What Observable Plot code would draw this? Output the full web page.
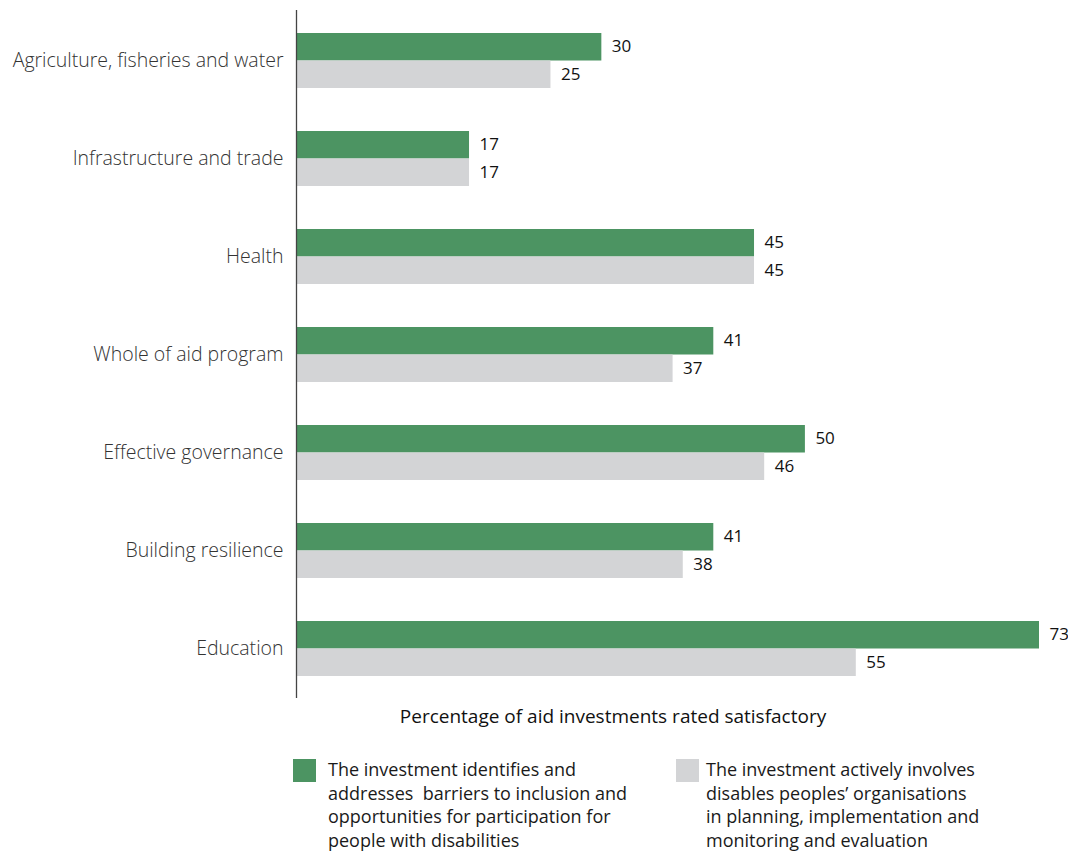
<!DOCTYPE html>
<html>
<head>
<meta charset="utf-8">
<script src="https://cdn.jsdelivr.net/npm/d3@7"></script>
<script src="https://cdn.jsdelivr.net/npm/@observablehq/plot@0.6"></script>
<style>
  body { margin: 0; background: #fff; font-family: "Open Sans", sans-serif; }
  #chart svg { display: block; }
  .legend { position: relative; height: 113px; }
  .item { position: absolute; top: 20px; display: flex; align-items: flex-start; }
  .sw { width: 23px; height: 23px; margin-top: 1px; flex: none; }
  .txt { font-size: 18px; line-height: 23.5px; color: #1a1a1a; white-space: nowrap; }
  #chart svg g[aria-label="y-axis tick label"] text { font-weight: 300; }
</style>
</head>
<body>
<div id="chart"></div>
<div class="legend" id="legend"></div>
<script>
const categories = ["Agriculture, fisheries and water", "Infrastructure and trade", "Health", "Whole of aid program", "Effective governance", "Building resilience", "Education"];
const identifies = [30, 17, 45, 41, 50, 41, 73];
const involves = [25, 17, 45, 37, 46, 38, 55];
const seriesNames = [
  "The investment identifies and<br>addresses&nbsp; barriers to inclusion and<br>opportunities for participation for<br>people with disabilities",
  "The investment actively involves<br>disables peoples’ organisations<br>in planning, implementation and<br>monitoring and evaluation"
];
const colors = ["#4c9462", "#d3d4d6"];
const xLabel = "Percentage of aid investments rated satisfactory";

const dataA = categories.map((c, i) => ({category: c, value: identifies[i]}));
const dataB = categories.map((c, i) => ({category: c, value: involves[i]}));

const plot = Plot.plot({
  width: 1068,
  height: 738,
  marginLeft: 296,
  marginRight: 29,
  marginTop: 10,
  marginBottom: 40,
  style: {fontFamily: "'Open Sans', sans-serif", fontSize: "19.5px", color: "#333"},
  x: {domain: [0, 73], axis: null},
  y: {domain: categories, paddingInner: 0.44, paddingOuter: 0.22, label: null, tickSize: 0, tickPadding: 13},
  marks: [
    Plot.barX(dataA, {y: "category", x: "value", fill: colors[0], insetBottom: 27.5, insetTop: 0}),
    Plot.barX(dataB, {y: "category", x: "value", fill: colors[1], insetTop: 27.5, insetBottom: 0}),
    Plot.text(dataA, {y: "category", x: "value", text: d => String(d.value), textAnchor: "start", dx: 10, dy: -14, fill: "#111", fontSize: 17}),
    Plot.text(dataB, {y: "category", x: "value", text: d => String(d.value), textAnchor: "start", dx: 10, dy: 14, fill: "#111", fontSize: 17}),
    Plot.ruleX([0], {stroke: "#444", strokeWidth: 1.3}),
    Plot.text([xLabel], {frameAnchor: "bottom", dx: -55, dy: 18, fill: "#111", fontSize: 19, lineAnchor: "middle"})
  ]
});
document.getElementById("chart").appendChild(plot);

const legend = document.getElementById("legend");
const lefts = [293, 676];
const gaps = [12, 7];
seriesNames.forEach((name, i) => {
  const it = document.createElement("div");
  it.className = "item";
  it.style.left = lefts[i] + "px";
  it.innerHTML = `<div class="sw" style="background:${colors[i]};margin-right:${gaps[i]}px"></div><div class="txt">${name}</div>`;
  legend.appendChild(it);
});
</script>
</body>
</html>
